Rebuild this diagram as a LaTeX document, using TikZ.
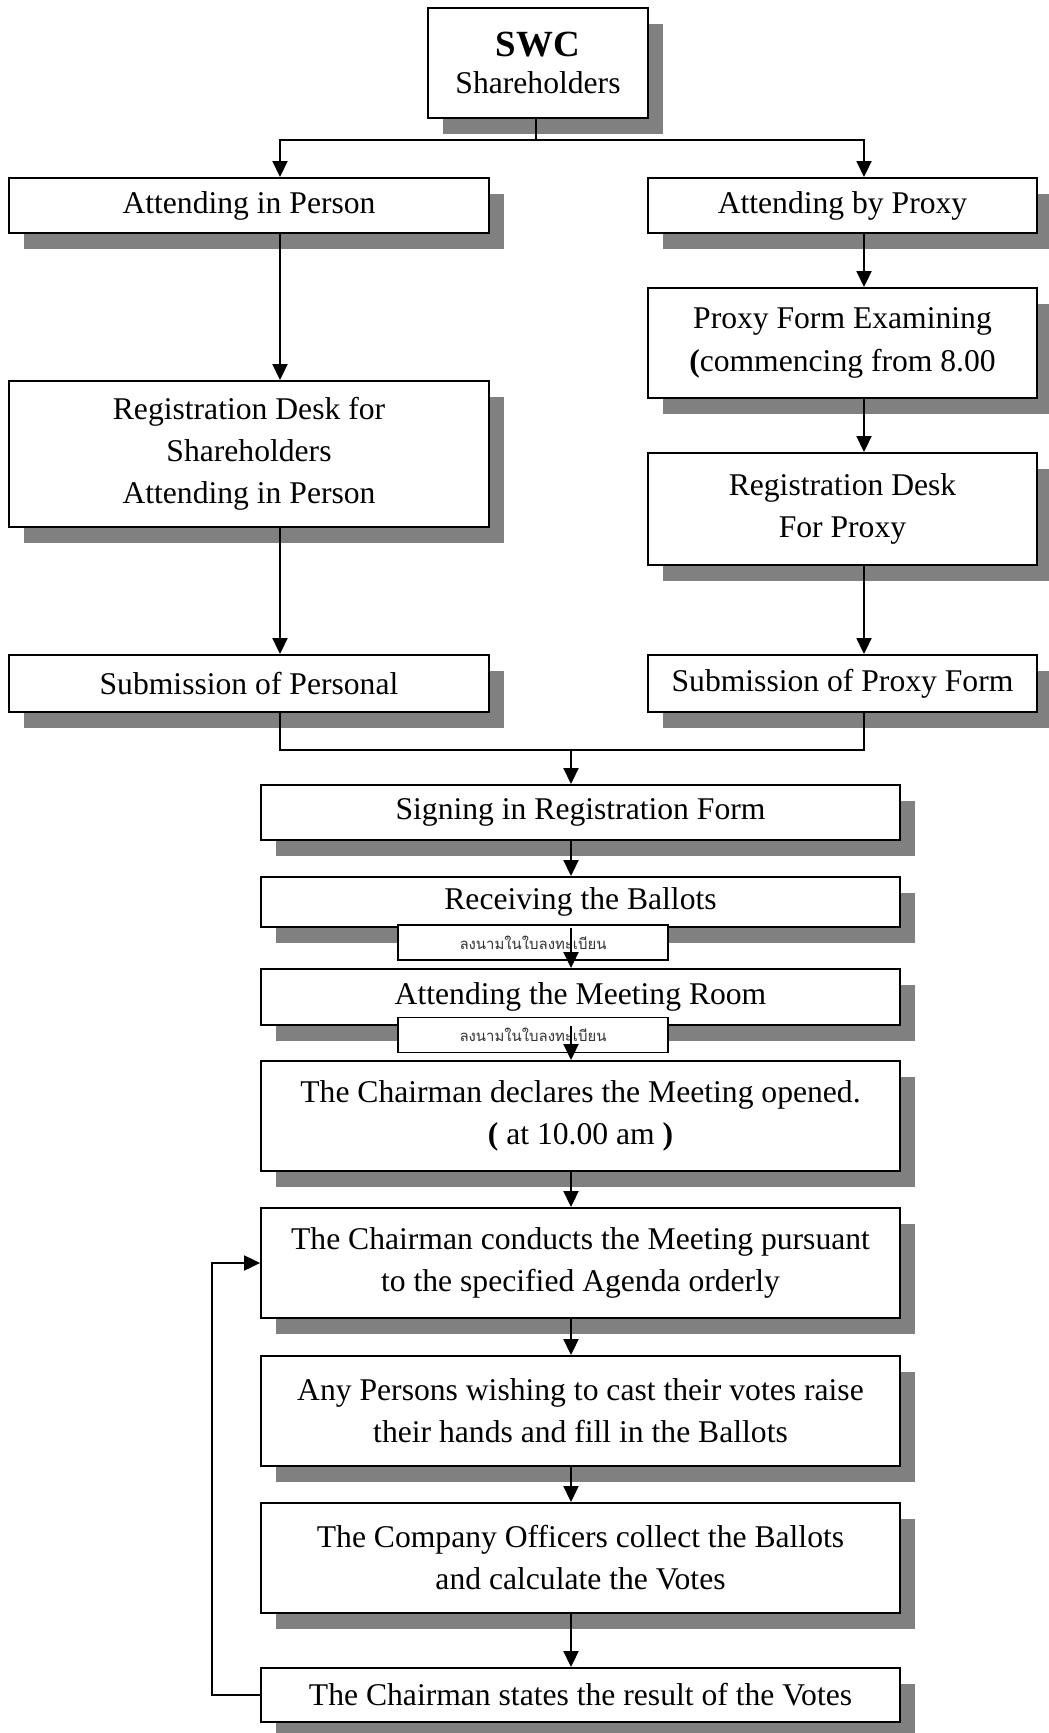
\documentclass[tikz,border=0pt]{standalone}
\usepackage{fontspec}
\setmainfont{Liberation Serif}
\newfontfamily\thaifont[Script=Thai]{Loma}
\usepackage{tikz}
\usetikzlibrary{arrows.meta,positioning,calc,shadows}

\begin{document}
\begin{tikzpicture}[x=0.02cm, y=-0.02cm,
    box/.style={draw=black, fill=white, line width=1.1pt, align=center, inner sep=2pt, font=\fontsize{18}{24}\selectfont,
        drop shadow={shadow xshift=0.3cm, shadow yshift=-0.32cm, fill=gray, opacity=1}},
    lbox/.style={box, minimum width=9.6cm},
    rbox/.style={box, minimum width=7.78cm},
    cbox/.style={box, minimum width=12.78cm},
    thai_box/.style={draw=black, fill=white, line width=0.7pt, minimum width=5.4cm, minimum height=0.7cm, inner sep=1pt, text=black!80, font=\thaifont\fontsize{8.5}{10}\selectfont},
    link/.style={draw=black, line width=1.1pt},
    flow/.style={link, -{Triangle[length=0.32cm, width=0.3cm]}}
]
    \useasboundingbox (0,0) rectangle (1048,1733);

    % Top
    \node[box, minimum width=4.4cm, minimum height=2.2cm, font=\fontsize{18}{21}\selectfont] (swc) at (538,63) {{\fontsize{21}{21}\selectfont\bfseries SWC}\\Shareholders};

    % Left column (in person)
    \node[lbox, minimum height=1.1cm] (inperson) at (249,205.5) {Attending in Person};
    \node[lbox, minimum height=2.92cm] (regperson) at (249,454) {Registration Desk for\\Shareholders\\Attending in Person};
    \node[lbox, minimum height=1.14cm] (subperson) at (249,683.5) {Submission of Personal};

    % Right column (proxy)
    \node[rbox, minimum height=1.1cm] (byproxy) at (842.5,205.5) {Attending by Proxy};
    \node[rbox, minimum height=2.2cm] (proxyform) at (842.5,343) {Proxy Form Examining\\{\bfseries(}commencing from 8.00};
    \node[rbox, minimum height=2.24cm] (regproxy) at (842.5,509) {Registration Desk\\For Proxy};
    \node[rbox, minimum height=1.14cm] (subproxy) at (842.5,683.5) {Submission of Proxy Form};

    % Centre column
    \node[cbox, minimum height=1.1cm] (signing) at (580.5,812.5) {Signing in Registration Form};
    \node[cbox, minimum height=1.0cm] (receiving) at (580.5,902) {Receiving the Ballots};
    \node[cbox, minimum height=1.12cm] (meetroom) at (580.5,997) {Attending the Meeting Room};
    \node[cbox, minimum height=2.2cm] (declares) at (580.5,1116) {The Chairman declares the Meeting opened.\\{\bfseries(} at 10.00 am {\bfseries)}};
    \node[cbox, minimum height=2.2cm] (conducts) at (580.5,1263) {The Chairman conducts the Meeting pursuant\\to the specified Agenda orderly};
    \node[cbox, minimum height=2.2cm] (anyperson) at (580.5,1411) {Any Persons wishing to cast their votes raise\\their hands and fill in the Ballots};
    \node[cbox, minimum height=2.2cm] (officers) at (580.5,1558) {The Company Officers collect the Ballots\\and calculate the Votes};
    \node[cbox, minimum height=1.08cm] (states) at (580.5,1695) {The Chairman states the result of the Votes};

    % Thai notes
    \node[thai_box] (note1) at (533,942.5) {ลงนามในใบลงทะเบียน};
    \node[thai_box] (note2) at (533,1035) {ลงนามในใบลงทะเบียน};

    % Helper coordinates
    \coordinate (lcol) at (280,0);
    \coordinate (rcol) at (864,0);
    \coordinate (ccol) at (571,0);
    \coordinate (loopx) at (212,0);
    \coordinate (topbus) at (536,140);
    \coordinate (join) at (571,750);

    % Split
    \draw[link] (swc.south -| topbus) -- (topbus);
    \draw[flow] (topbus) -| (inperson.north -| lcol);
    \draw[flow] (topbus) -| (byproxy.north -| rcol);

    % Left flow
    \draw[flow] (inperson.south -| lcol) -- (regperson.north -| lcol);
    \draw[flow] (regperson.south -| lcol) -- (subperson.north -| lcol);

    % Right flow
    \draw[flow] (byproxy.south -| rcol) -- (proxyform.north -| rcol);
    \draw[flow] (proxyform.south -| rcol) -- (regproxy.north -| rcol);
    \draw[flow] (regproxy.south -| rcol) -- (subproxy.north -| rcol);

    % Merge
    \draw[link] (subperson.south -| lcol) |- (join) -| (subproxy.south -| rcol);
    \draw[flow] (join) -- (signing.north -| ccol);

    % Centre flow
    \draw[flow] (signing.south -| ccol) -- (receiving.north -| ccol);
    \draw[flow] (receiving.south -| ccol) -- (meetroom.north -| ccol);
    \draw[flow] (meetroom.south -| ccol) -- (declares.north -| ccol);
    \draw[flow] (declares.south -| ccol) -- (conducts.north -| ccol);
    \draw[flow] (conducts.south -| ccol) -- (anyperson.north -| ccol);
    \draw[flow] (anyperson.south -| ccol) -- (officers.north -| ccol);
    \draw[flow] (officers.south -| ccol) -- (states.north -| ccol);

    % Loop back
    \draw[flow] (states.west) -| (conducts.west -| loopx) -- (conducts.west);

\end{tikzpicture}
\end{document}
